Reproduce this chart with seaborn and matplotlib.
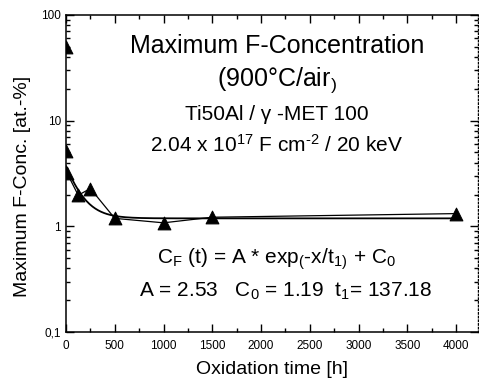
import numpy as np
import pandas as pd
import matplotlib
matplotlib.use("Agg")
import matplotlib.pyplot as plt
import seaborn as sns
from matplotlib.ticker import FixedLocator, MultipleLocator, LogLocator, NullFormatter

# ---- data ----
time_h = [0, 0, 10, 125, 250, 500, 1000, 1500, 4000]
conc = [50, 5.2, 3.2, 1.97, 2.28, 1.19, 1.08, 1.22, 1.32]
err_low = [0, 0, 0, 0.25, 0.3, 0.13, 0.12, 0.0, 0.0]
line_time = [10, 125, 250, 500, 1000, 1500, 4000]
line_conc = [3.2, 1.97, 2.28, 1.19, 1.08, 1.22, 1.32]
# fit parameters shown in the chart
A_fit, C0_fit, t1_fit = 2.53, 1.19, 137.18
xticks = [0, 500, 1000, 1500, 2000, 2500, 3000, 3500, 4000]
yticks = [0.1, 1, 10, 100]
ytick_labels = ["0,1", "1", "10", "100"]

sns.set_style("ticks")
plt.rcParams['font.family'] = ['Liberation Sans', 'DejaVu Sans']
plt.rcParams['mathtext.fontset'] = 'custom'
plt.rcParams['mathtext.rm'] = 'Liberation Sans'
plt.rcParams['mathtext.it'] = 'Liberation Sans'
plt.rcParams['mathtext.default'] = 'regular'
for k in ['text.color', 'axes.labelcolor', 'xtick.color', 'ytick.color', 'axes.edgecolor']:
    plt.rcParams[k] = 'black'

fig = plt.figure(figsize=(4.79, 3.83), dpi=100)
ax = fig.add_axes([0.1378, 0.133, 0.998 - 0.1378, 0.961 - 0.133])

fit_t = np.linspace(0, 4000, 400)
fit_df = pd.DataFrame({"t": fit_t, "c": A_fit * np.exp(-fit_t / t1_fit) + C0_fit})
sns.lineplot(data=fit_df, x="t", y="c", ax=ax, color="black", lw=1.3)

line_df = pd.DataFrame({"t": line_time, "c": line_conc})
sns.lineplot(data=line_df, x="t", y="c", ax=ax, color="black", lw=0.9)

ax.errorbar(time_h, conc, yerr=[err_low, [0]*len(conc)], fmt="none", ecolor="black", elinewidth=0.9)
pts = pd.DataFrame({"t": time_h, "c": conc})
sns.scatterplot(data=pts, x="t", y="c", ax=ax, marker="^", s=85, color="black",
                edgecolor="black", zorder=5)

ax.set_yscale("log")
ax.set_xlim(0, 4225)
ax.set_ylim(0.1, 100)
ax.xaxis.set_major_locator(FixedLocator(xticks))
ax.xaxis.set_minor_locator(MultipleLocator(250))
ax.yaxis.set_major_locator(FixedLocator(yticks))
ax.set_yticklabels(ytick_labels)
ax.yaxis.set_minor_locator(LogLocator(base=10, subs=np.arange(2, 10)))
ax.yaxis.set_minor_formatter(NullFormatter())
ax.tick_params(which="both", direction="in", top=True, right=True, labelsize=8.5, width=1, colors="black")
ax.tick_params(which="major", length=6)
ax.tick_params(which="minor", length=3)
ax.tick_params(axis="x", pad=6)
for s in ["left", "bottom", "top"]:
    ax.spines[s].set_linewidth(1.1)
    ax.spines[s].set_color("black")
ax.spines["right"].set_linestyle(":")
ax.spines["right"].set_linewidth(1.0)
ax.spines["right"].set_color("black")

ax.set_xlabel("Oxidation time [h]", fontsize=14, labelpad=6)
ax.set_ylabel("Maximum F-Conc. [at.-%]", fontsize=14)
ax.yaxis.set_label_coords(-0.085, 0.459)

tk = dict(transform=ax.transAxes, ha="center", va="baseline")
ax.text(0.512, 0.880, "Maximum F-Concentration", fontsize=18, **tk)
ax.text(0.512, 0.776, r"(900°C/air$_{)}$", fontsize=18, **tk)
ax.text(0.512, 0.669, "Ti50Al / γ -MET 100", fontsize=15, **tk)
ax.text(0.512, 0.568, r"2.04 x 10$^{17}$ F cm$^{\text{-}2}$ / 20 keV", fontsize=15, **tk)
ax.text(0.512, 0.217, r"C$_F$ (t) = A * exp$_($-x/t$_1$$_)$ + C$_0$", fontsize=15, **tk)
ax.text(0.534, 0.110, r"A = 2.53   C$_0$ = 1.19  t$_1$= 137.18", fontsize=15, **tk)

fig.savefig("out.png", dpi=100)
